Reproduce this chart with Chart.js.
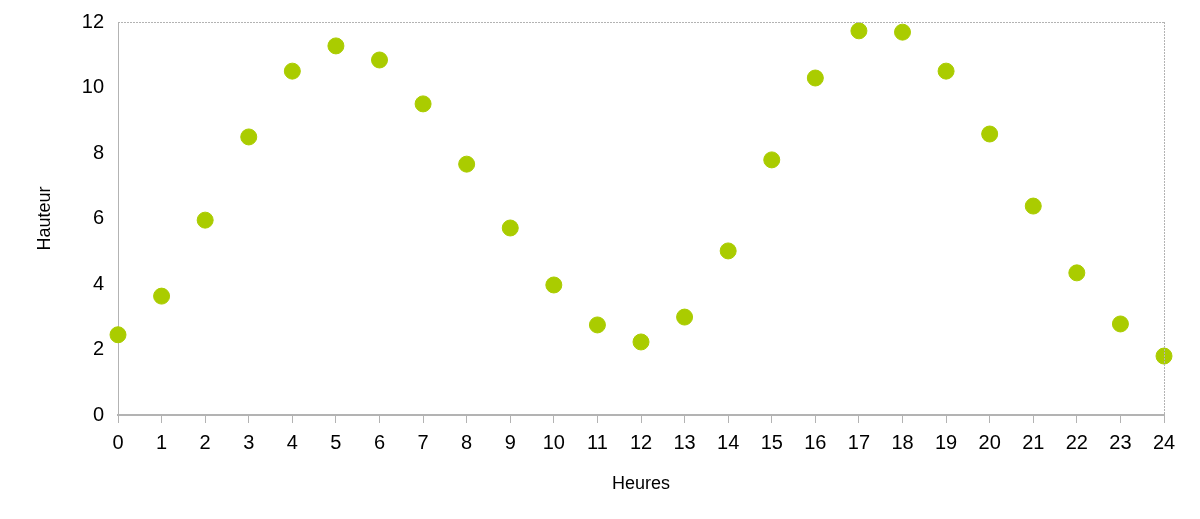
<!DOCTYPE html>
<html><head><meta charset="utf-8">
<script src="https://cdn.jsdelivr.net/npm/chart.js@4.4.1/dist/chart.umd.min.js"></script>
<style>html,body{margin:0;padding:0;background:#fff}#wrap{width:1200px;height:519px}</style>
</head><body><div id="wrap"><canvas id="c" width="1200" height="519"></canvas></div>
<script>
const hours = [0,1,2,3,4,5,6,7,8,9,10,11,12,13,14,15,16,17,18,19,20,21,22,23,24];
const heights = [2.45,3.63,5.95,8.49,10.5,11.27,10.84,9.5,7.66,5.71,3.97,2.75,2.23,2.99,5.01,7.79,10.29,11.73,11.69,10.5,8.58,6.38,4.34,2.78,1.8];
const xTitle = 'Heures';
const yTitle = 'Hauteur';

const frame = {
  id: 'frame',
  afterDraw(chart){
    const {ctx, chartArea:a} = chart;
    ctx.save();
    ctx.strokeStyle = '#b3b3b3';
    ctx.lineWidth = 1;
    ctx.setLineDash([2,1]);
    ctx.beginPath();
    ctx.moveTo(a.left, a.top+0.5); ctx.lineTo(a.right, a.top+0.5);
    ctx.moveTo(a.right+0.5, a.top); ctx.lineTo(a.right+0.5, a.bottom);
    ctx.stroke();
    ctx.restore();
  }
};

new Chart(document.getElementById('c'), {
  type: 'scatter',
  data: { datasets: [{ data: hours.map((h,i)=>({x:h,y:heights[i]})), backgroundColor:'#aacc00', borderColor:'#aacc00', pointRadius:8, pointHoverRadius:8, clip:false }] },
  options: {
    responsive:false, animation:false,
    layout:{ padding:{ left:30, right:36, top:22, bottom:24 } },
    plugins:{ legend:{display:false}, tooltip:{enabled:false} },
    scales:{
      x:{ type:'linear', min:0, max:24,
        ticks:{ stepSize:1, color:'#000', font:{family:'Liberation Sans', size:20}, padding:8, maxRotation:0, autoSkip:false },
        grid:{ drawOnChartArea:false, drawTicks:true, tickLength:8, color:'#b3b3b3' },
        border:{ color:'#b3b3b3', width:2 },
        title:{ display:true, text:xTitle, color:'#000', font:{family:'Liberation Sans', size:18}, padding:{top:3, bottom:0} },
        afterFit(s){ s.height = 519 - 415 - 24; }
      },
      y:{ min:0, max:12,
        ticks:{ stepSize:2, color:'#000', font:{family:'Liberation Sans', size:20}, padding:14 },
        grid:{ display:true, drawOnChartArea:false, drawTicks:false, color:'#b3b3b3' },
        border:{ color:'#b3b3b3', width:1, dash:[2,1] },
        title:{ display:true, text:yTitle, color:'#000', font:{family:'Liberation Sans', size:18}, padding:{bottom:20} },
        afterFit(s){ s.width = 118 - 30; s.paddingTop = 0; s.paddingBottom = 0; }
      }
    }
  },
  plugins:[frame]
});
</script></body></html>
